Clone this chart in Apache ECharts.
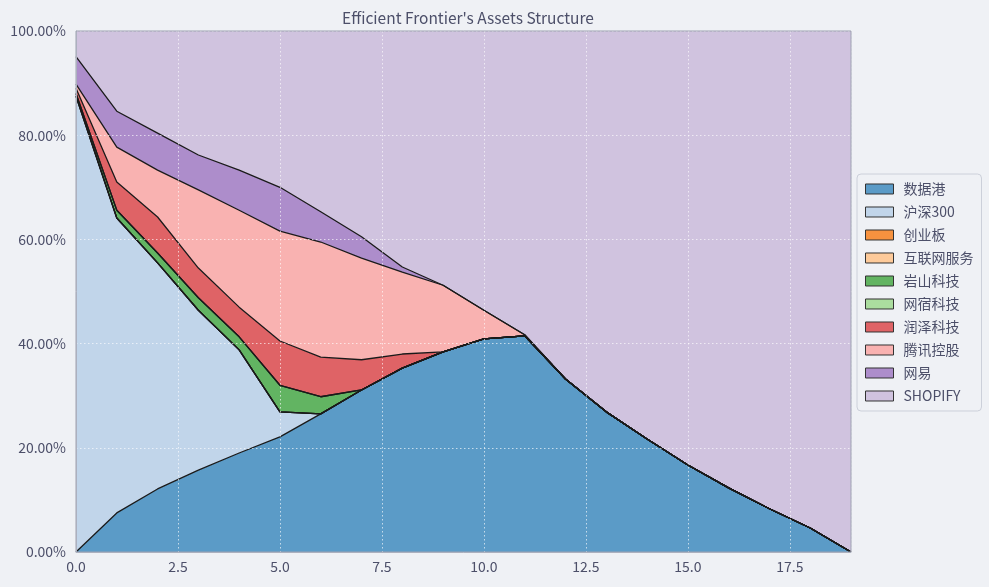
<!DOCTYPE html>
<html>
<head>
<meta charset="utf-8">
<title>Efficient Frontier's Assets Structure</title>
<script src="https://cdn.jsdelivr.net/npm/echarts@6/dist/echarts.min.js"></script>
<style>
  html, body { margin: 0; padding: 0; background: #eff1f5; }
  #chart { width: 989px; height: 587px; }
</style>
</head>
<body>
<div id="chart"></div>
<script>
// portfolio index along the frontier
const steps = [0, 1, 2, 3, 4, 5, 6, 7, 8, 9, 10, 11, 12, 13, 14, 15, 16, 17, 18, 19];

// weights in percent
const sjg      = [0, 7.5, 12.1, 15.7, 19.0, 22.1, 26.5, 31.1, 35.3, 38.4, 40.9, 41.5, 33.2, 26.9, 21.7, 16.7, 12.3, 8.3, 4.6, 0];
const hs300    = [87.5, 56.6, 43.4, 30.7, 19.8, 4.8, 0, 0, 0, 0, 0, 0, 0, 0, 0, 0, 0, 0, 0, 0];
const cyb      = [0, 0, 0, 0, 0, 0, 0, 0, 0, 0, 0, 0, 0, 0, 0, 0, 0, 0, 0, 0];
const hlwfw    = [0, 0, 0, 0, 0, 0, 0, 0, 0, 0, 0, 0, 0, 0, 0, 0, 0, 0, 0, 0];
const yskj     = [0.5, 1.5, 1.9, 2.4, 2.5, 5.1, 3.3, 0, 0, 0, 0, 0, 0, 0, 0, 0, 0, 0, 0, 0];
const wskj     = [0, 0, 0, 0, 0, 0, 0, 0, 0, 0, 0, 0, 0, 0, 0, 0, 0, 0, 0, 0];
const rzkj     = [1.0, 5.4, 6.9, 5.7, 5.7, 8.5, 7.6, 5.8, 2.7, 0, 0, 0, 0, 0, 0, 0, 0, 0, 0, 0];
const txkg     = [0.8, 6.7, 9.0, 15.0, 18.6, 21.1, 22.1, 19.5, 15.7, 12.8, 5.5, 0.2, 0, 0, 0, 0, 0, 0, 0, 0];
const wy       = [5.3, 6.9, 7.1, 6.7, 7.7, 8.4, 5.8, 4.1, 1.0, 0, 0, 0, 0, 0, 0, 0, 0, 0, 0, 0];
const shopify  = [4.9, 15.4, 19.6, 23.8, 26.7, 30.0, 34.7, 39.5, 45.3, 48.8, 53.6, 58.3, 66.8, 73.1, 78.3, 83.3, 87.7, 91.7, 95.4, 100];

const xTicks = [0, 2.5, 5, 7.5, 10, 12.5, 15, 17.5];
const yTicks = [0, 20, 40, 60, 80, 100];

const assets = [
  { name: '数据港', values: sjg, color: '#5b9bc7' },
  { name: '沪深300', values: hs300, color: '#c1d5ea' },
  { name: '创业板', values: cyb, color: '#f7923f' },
  { name: '互联网服务', values: hlwfw, color: '#fdca9a' },
  { name: '岩山科技', values: yskj, color: '#62b462' },
  { name: '网宿科技', values: wskj, color: '#abdd9f' },
  { name: '润泽科技', values: rzkj, color: '#df6366' },
  { name: '腾讯控股', values: txkg, color: '#f9b2b1' },
  { name: '网易', values: wy, color: '#ad8dcb' },
  { name: 'SHOPIFY', values: shopify, color: '#d0c3df' }
];

const textColor = '#4c4f69';
const fontFamily = '"Noto Sans CJK SC", "Noto Sans", sans-serif';
const gridLine = { show: true, lineStyle: { color: 'rgba(255,255,255,0.65)', type: [1.5, 2.5], width: 1 } };

const chart = echarts.init(document.getElementById('chart'));

// stacked on a hidden category axis (one slot per step); the visible value axis carries ticks
const series = assets.map((a, idx) => ({
  name: a.name,
  type: 'line',
  stack: 'weights',
  xAxisIndex: 0,
  data: a.values,
  showSymbol: false,
  symbol: 'none',
  smooth: false,
  color: a.color,
  lineStyle: {
    color: '#1a1a1a',
    width: 1.3,
    opacity: idx === assets.length - 1 ? 0 : 1
  },
  areaStyle: { color: a.color, opacity: 1 },
  emphasis: { disabled: true },
  z: 2
}));

const option = {
  backgroundColor: '#eff1f5',
  animation: false,
  textStyle: { fontFamily: fontFamily },
  title: {
    text: "Efficient Frontier's Assets Structure",
    left: 463,
    textAlign: 'center',
    top: 5,
    textStyle: { color: textColor, fontSize: 15.5, fontWeight: 'normal', fontFamily: fontFamily }
  },
  grid: {
    left: 76,
    right: 138,
    top: 31,
    bottom: 35,
    show: true,
    z: 10,
    backgroundColor: 'rgba(0,0,0,0)',
    borderColor: '#9ca0b0',
    borderWidth: 1
  },
  legend: {
    orient: 'vertical',
    left: 857,
    top: 174,
    icon: 'rect',
    itemWidth: 28,
    itemHeight: 10,
    itemGap: 9,
    padding: [8, 8, 8, 8],
    backgroundColor: '#eff1f5',
    borderColor: '#ccd0da',
    borderWidth: 1,
    borderRadius: 4,
    selectedMode: false,
    textStyle: { color: textColor, fontSize: 14, fontFamily: fontFamily, padding: [0, 0, 0, 5] },
    data: assets.map(a => ({
      name: a.name,
      itemStyle: { color: a.color, borderColor: '#333333', borderWidth: 1 }
    }))
  },
  xAxis: [
    {
      type: 'category',
      data: steps,
      boundaryGap: false,
      position: 'top',
      show: false
    },
    {
      type: 'value',
      position: 'bottom',
      min: 0,
      max: 19,
      interval: 2.5,
      z: 5,
      axisLine: { show: true, onZero: false, lineStyle: { color: '#bcc0cc' } },
      axisTick: { show: false },
      axisLabel: {
        color: textColor,
        fontSize: 14,
        margin: 8,
        showMaxLabel: false,
        formatter: v => (xTicks.includes(v) ? v.toFixed(1) : '')
      },
      splitLine: gridLine
    }
  ],
  yAxis: {
    type: 'value',
    min: 0,
    max: 100,
    interval: 20,
    z: 5,
    axisLine: { show: true, lineStyle: { color: '#bcc0cc' } },
    axisTick: { show: false },
    axisLabel: {
      color: textColor,
      fontSize: 14,
      margin: 10,
      formatter: v => (yTicks.includes(v) ? v.toFixed(2) + '%' : '')
    },
    splitLine: gridLine
  },
  series: series
};

chart.setOption(option);
window.addEventListener('resize', chart.resize);
</script>
</body>
</html>
